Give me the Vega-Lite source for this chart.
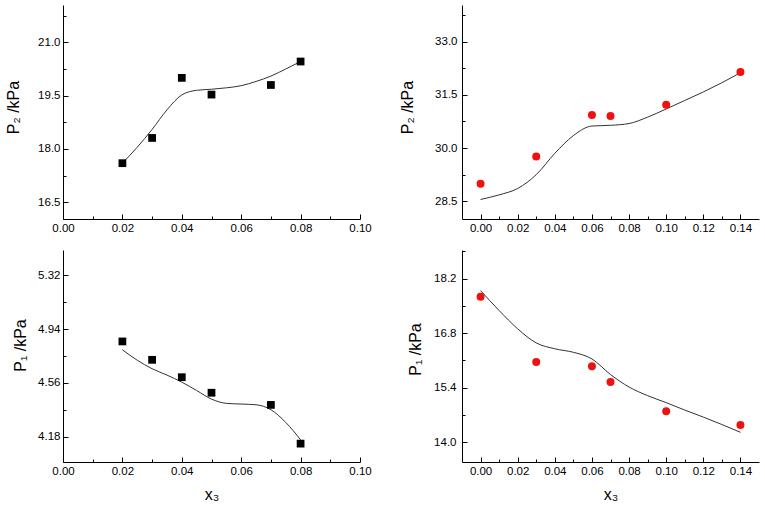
{
  "$schema": "https://vega.github.io/schema/vega-lite/v6.json",
  "background": "white",
  "padding": {"left": 5, "top": 5, "right": 5, "bottom": 5},
  "bounds": "flush",
  "spacing": {"row": 31, "column": 102},
  "columns": 2,
  "config": {
    "view": {"stroke": null},
    "font": "Liberation Sans",
    "axis": {
      "grid": false,
      "domainColor": "black",
      "tickColor": "black",
      "labelColor": "black",
      "titleColor": "black",
      "labelFontSize": 11.5,
      "labelFlush": false,
      "labelOverlap": false,
      "titleFontSize": 16,
      "titleFontWeight": "normal",
      "labelFont": "Liberation Sans",
      "titleFont": "Liberation Sans"
    },
    "axisY": {"titleBaseline": "alphabetic", "titleAlign": "center", "titleAngle": -90}
  },
  "datasets": {
    "tl_pts": [
      {"x": 0.02, "y": 17.6}, {"x": 0.03, "y": 18.31}, {"x": 0.04, "y": 20.0},
      {"x": 0.05, "y": 19.53}, {"x": 0.07, "y": 19.8}, {"x": 0.08, "y": 20.46}
    ],
    "tl_fit": [
      {"x": 0.02, "y": 17.6}, {"x": 0.025, "y": 18.05}, {"x": 0.03, "y": 18.55},
      {"x": 0.035, "y": 19.1}, {"x": 0.04, "y": 19.52}, {"x": 0.045, "y": 19.65},
      {"x": 0.05, "y": 19.68}, {"x": 0.055, "y": 19.72}, {"x": 0.06, "y": 19.78},
      {"x": 0.065, "y": 19.9}, {"x": 0.07, "y": 20.05}, {"x": 0.075, "y": 20.25},
      {"x": 0.08, "y": 20.46}
    ],
    "tr_pts": [
      {"x": 0.0, "y": 28.99}, {"x": 0.03, "y": 29.76}, {"x": 0.06, "y": 30.93},
      {"x": 0.07, "y": 30.9}, {"x": 0.1, "y": 31.22}, {"x": 0.14, "y": 32.14}
    ],
    "tr_fit": [
      {"x": 0.0, "y": 28.55}, {"x": 0.01, "y": 28.68}, {"x": 0.02, "y": 28.86},
      {"x": 0.03, "y": 29.25}, {"x": 0.04, "y": 29.85}, {"x": 0.05, "y": 30.35},
      {"x": 0.06, "y": 30.62}, {"x": 0.07, "y": 30.64}, {"x": 0.08, "y": 30.69},
      {"x": 0.09, "y": 30.87}, {"x": 0.1, "y": 31.1}, {"x": 0.11, "y": 31.34},
      {"x": 0.12, "y": 31.58}, {"x": 0.13, "y": 31.84}, {"x": 0.14, "y": 32.12}
    ],
    "bl_pts": [
      {"x": 0.02, "y": 4.853}, {"x": 0.03, "y": 4.723}, {"x": 0.04, "y": 4.6},
      {"x": 0.05, "y": 4.49}, {"x": 0.07, "y": 4.404}, {"x": 0.08, "y": 4.13}
    ],
    "bl_fit": [
      {"x": 0.02, "y": 4.794}, {"x": 0.025, "y": 4.72}, {"x": 0.03, "y": 4.66},
      {"x": 0.035, "y": 4.615}, {"x": 0.04, "y": 4.565}, {"x": 0.045, "y": 4.506},
      {"x": 0.05, "y": 4.445}, {"x": 0.055, "y": 4.415}, {"x": 0.06, "y": 4.41},
      {"x": 0.065, "y": 4.405}, {"x": 0.07, "y": 4.37}, {"x": 0.075, "y": 4.28},
      {"x": 0.08, "y": 4.157}
    ],
    "br_pts": [
      {"x": 0.0, "y": 17.73}, {"x": 0.03, "y": 16.06}, {"x": 0.06, "y": 15.95},
      {"x": 0.07, "y": 15.55}, {"x": 0.1, "y": 14.8}, {"x": 0.14, "y": 14.45}
    ],
    "br_fit": [
      {"x": 0.0, "y": 17.89}, {"x": 0.01, "y": 17.38}, {"x": 0.02, "y": 16.91},
      {"x": 0.03, "y": 16.55}, {"x": 0.04, "y": 16.4}, {"x": 0.05, "y": 16.31},
      {"x": 0.06, "y": 16.14}, {"x": 0.07, "y": 15.74}, {"x": 0.08, "y": 15.42},
      {"x": 0.09, "y": 15.2}, {"x": 0.1, "y": 15.02}, {"x": 0.11, "y": 14.83},
      {"x": 0.12, "y": 14.65}, {"x": 0.13, "y": 14.46}, {"x": 0.14, "y": 14.26}
    ]
  },
  "concat": [
    {
      "width": 297,
      "height": 214,
      "encoding": {
        "x": {
          "field": "x", "type": "quantitative",
          "scale": {"domain": [0, 0.1], "nice": false, "zero": false},
          "axis": {
            "title": null,
            "values": [0, 0.01, 0.02, 0.03, 0.04, 0.05, 0.06, 0.07, 0.08, 0.09, 0.1],
            "format": ".2f",
            "labelExpr": "abs(round(datum.value*100))%2==1 ? '' : datum.label",
            "tickSize": {"condition": {"test": "abs(round(datum.value*100))%2==1", "value": -3}, "value": -5},
            "labelPadding": 8
          }
        },
        "y": {
          "field": "y", "type": "quantitative",
          "scale": {"domain": [16.03, 22.05], "nice": false, "zero": false},
          "axis": {
            "title": "P₂ /kPa",
            "values": [16.5, 17.25, 18, 18.75, 19.5, 20.25, 21, 21.75],
            "format": ".1f",
            "labelExpr": "indexof([17.25, 18.75, 20.25, 21.75], datum.value) >= 0 ? '' : datum.label",
            "tickSize": {"condition": {"test": "indexof([17.25, 18.75, 20.25, 21.75], datum.value) >= 0", "value": -3}, "value": -5},
            "labelPadding": 8,
            "titleX": -45,
            "titleY": 102
          }
        }
      },
      "layer": [
        {
          "data": {"name": "tl_fit"},
          "mark": {"type": "line", "interpolate": "monotone", "color": "#333333", "strokeWidth": 1}
        },
        {
          "data": {"name": "tl_pts"},
          "mark": {"type": "point", "shape": "square", "filled": true, "size": 60, "color": "black", "opacity": 1}
        }
      ]
    },
    {
      "width": 297,
      "height": 214,
      "encoding": {
        "x": {
          "field": "x", "type": "quantitative",
          "scale": {"domain": [-0.01, 0.15], "nice": false, "zero": false},
          "axis": {
            "title": null,
            "values": [0, 0.01, 0.02, 0.03, 0.04, 0.05, 0.06, 0.07, 0.08, 0.09, 0.1, 0.11, 0.12, 0.13, 0.14],
            "format": ".2f",
            "labelExpr": "abs(round(datum.value*100))%2==1 ? '' : datum.label",
            "tickSize": {"condition": {"test": "abs(round(datum.value*100))%2==1", "value": -3}, "value": -5},
            "labelPadding": 8
          }
        },
        "y": {
          "field": "y", "type": "quantitative",
          "scale": {"domain": [28.0, 34.03], "nice": false, "zero": false},
          "axis": {
            "title": "P₂ /kPa",
            "values": [28.5, 29.25, 30, 30.75, 31.5, 32.25, 33, 33.75],
            "format": ".1f",
            "labelExpr": "indexof([29.25, 30.75, 32.25, 33.75], datum.value) >= 0 ? '' : datum.label",
            "tickSize": {"condition": {"test": "indexof([29.25, 30.75, 32.25, 33.75], datum.value) >= 0", "value": -3}, "value": -5},
            "labelPadding": 10,
            "titleX": -50,
            "titleY": 102
          }
        }
      },
      "layer": [
        {
          "data": {"name": "tr_fit"},
          "mark": {"type": "line", "interpolate": "monotone", "color": "#333333", "strokeWidth": 1}
        },
        {
          "data": {"name": "tr_pts"},
          "mark": {"type": "point", "shape": "circle", "filled": true, "size": 64, "color": "#ee1111", "opacity": 1}
        }
      ]
    },
    {
      "width": 297,
      "height": 212,
      "encoding": {
        "x": {
          "field": "x", "type": "quantitative",
          "scale": {"domain": [0, 0.1], "nice": false, "zero": false},
          "axis": {
            "title": "x₃",
            "values": [0, 0.01, 0.02, 0.03, 0.04, 0.05, 0.06, 0.07, 0.08, 0.09, 0.1],
            "format": ".2f",
            "labelExpr": "abs(round(datum.value*100))%2==1 ? '' : datum.label",
            "tickSize": {"condition": {"test": "abs(round(datum.value*100))%2==1", "value": -3}, "value": -5},
            "labelPadding": 8,
            "titlePadding": 8
          }
        },
        "y": {
          "field": "y", "type": "quantitative",
          "scale": {"domain": [4.0, 5.5], "nice": false, "zero": false},
          "axis": {
            "title": "P₁ /kPa",
            "values": [4.18, 4.37, 4.56, 4.75, 4.94, 5.13, 5.32],
            "format": ".2f",
            "labelExpr": "indexof([4.37, 4.75, 5.13], datum.value) >= 0 ? '' : datum.label",
            "tickSize": {"condition": {"test": "indexof([4.37, 4.75, 5.13], datum.value) >= 0", "value": -3}, "value": -5},
            "labelPadding": 8,
            "titleX": -38,
            "titleY": 95
          }
        }
      },
      "layer": [
        {
          "data": {"name": "bl_fit"},
          "mark": {"type": "line", "interpolate": "monotone", "color": "#333333", "strokeWidth": 1}
        },
        {
          "data": {"name": "bl_pts"},
          "mark": {"type": "point", "shape": "square", "filled": true, "size": 60, "color": "black", "opacity": 1}
        }
      ]
    },
    {
      "width": 297,
      "height": 212,
      "encoding": {
        "x": {
          "field": "x", "type": "quantitative",
          "scale": {"domain": [-0.01, 0.15], "nice": false, "zero": false},
          "axis": {
            "title": "x₃",
            "values": [0, 0.01, 0.02, 0.03, 0.04, 0.05, 0.06, 0.07, 0.08, 0.09, 0.1, 0.11, 0.12, 0.13, 0.14],
            "format": ".2f",
            "labelExpr": "abs(round(datum.value*100))%2==1 ? '' : datum.label",
            "tickSize": {"condition": {"test": "abs(round(datum.value*100))%2==1", "value": -3}, "value": -5},
            "labelPadding": 8,
            "titlePadding": 8
          }
        },
        "y": {
          "field": "y", "type": "quantitative",
          "scale": {"domain": [13.5, 18.93], "nice": false, "zero": false},
          "axis": {
            "title": "P₁ /kPa",
            "values": [14.0, 14.7, 15.4, 16.1, 16.8, 17.5, 18.2, 18.9],
            "format": ".1f",
            "labelExpr": "indexof([14.7, 16.1, 17.5, 18.9], datum.value) >= 0 ? '' : datum.label",
            "tickSize": {"condition": {"test": "indexof([14.7, 16.1, 17.5, 18.9], datum.value) >= 0", "value": -3}, "value": -5},
            "labelPadding": 11,
            "titleX": -42,
            "titleY": 99
          }
        }
      },
      "layer": [
        {
          "data": {"name": "br_fit"},
          "mark": {"type": "line", "interpolate": "monotone", "color": "#333333", "strokeWidth": 1}
        },
        {
          "data": {"name": "br_pts"},
          "mark": {"type": "point", "shape": "circle", "filled": true, "size": 64, "color": "#ee1111", "opacity": 1}
        }
      ]
    }
  ]
}
